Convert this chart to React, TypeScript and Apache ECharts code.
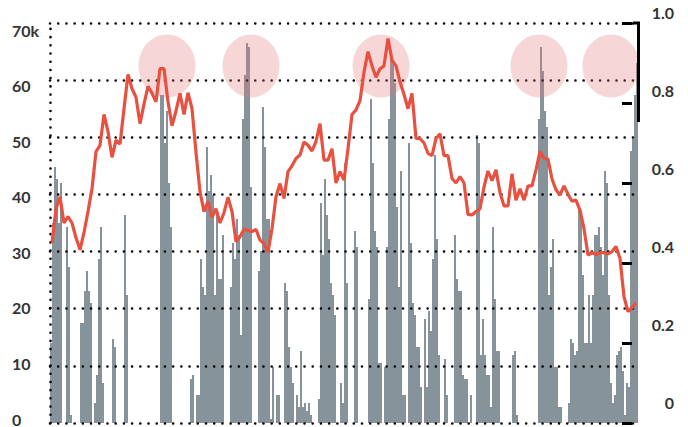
import React, { useEffect, useRef } from "react";
import * as echarts from "echarts";

// Red line, left axis (thousands), one value per 4px step
const lineValues: number[] = [
  31.5, 37.5, 39.6, 35, 36.1, 35, 32.4, 30.3, 33.3, 37,
  41, 47.5, 48.6, 54, 51, 46.5, 49.5, 48.8, 55, 61,
  58.5, 57, 52.4, 55.8, 58.9, 57.7, 56.2, 62, 62, 56.2,
  52, 54.6, 57.7, 54, 57.8, 55, 47.3, 40.5, 37, 38.8,
  36, 37.5, 35, 36.8, 39.5, 37, 31.7, 32.6, 33.9, 33.7,
  33.5, 33.9, 32, 31.4, 29.9, 34, 39.6, 41.9, 39.3, 44,
  45, 46.3, 46.9, 49.2, 48.6, 47.6, 49.3, 52.4, 46, 46,
  48, 42, 44, 42.5, 48, 54, 54.8, 56.4, 61.4, 65,
  62.5, 60.5, 62, 62.5, 67.3, 63.5, 62.5, 59.7, 57.5, 55,
  57.7, 49.8, 49.8, 49, 47.2, 46.8, 49.8, 50.6, 46.8, 46.8,
  42.8, 42, 43.1, 42, 36.5, 36.4, 37, 37.5, 41.3, 44.1,
  42.4, 44.3, 40.3, 38, 38, 43.6, 39, 41, 39, 41.5,
  41.5, 44.3, 47.5, 46.3, 46.2, 42.7, 40.8, 39.9, 41.5, 40,
  38.8, 39, 37.2, 34, 29.4, 29.8, 29.5, 29.8, 29.8, 29.6,
  30, 30.9, 28.8, 22.1, 19.5, 20.2, 21,
];

// Grey bars, right axis (0..1), one value per 2px step
const barValues: number[] = [
  0.2, 0.5, 0.64, 0.61, 0.5, 0.6, 0, 0, 0.49, 0.39,
  0.02, 0, 0, 0, 0, 0.25, 0.25, 0.33, 0.38, 0.33,
  0.3, 0, 0.05, 0.12, 0.41, 0.49, 0.1, 0, 0, 0,
  0, 0.21, 0.19, 0, 0, 0, 0, 0.52, 0.32, 0,
  0, 0, 0, 0, 0, 0, 0, 0, 0, 0,
  0, 0, 0, 0, 0, 0.82, 0.82, 0.7, 0.78, 0.6,
  0.49, 0, 0, 0, 0, 0, 0, 0, 0, 0,
  0.11, 0.12, 0, 0.07, 0.07, 0.41, 0.34, 0.32, 0.69, 0.58,
  0.62, 0.57, 0.32, 0.52, 0.36, 0.36, 0.47, 0, 0, 0,
  0.34, 0.45, 0.41, 0.51, 0.47, 0.22, 0.76, 0.87, 0.95, 0.94,
  0.59, 0, 0, 0, 0.38, 0.43, 0.79, 0.69, 0.51, 0.51,
  0.01, 0.14, 0, 0.07, 0.07, 0, 0, 0.35, 0.33, 0.19,
  0.14, 0.1, 0, 0.07, 0.04, 0.18, 0.04, 0.05, 0.03, 0.05,
  0.02, 0, 0, 0, 0.06, 0.55, 0.42, 0.61, 0.52, 0.46,
  0.35, 0.32, 0.27, 0, 0, 0.1, 0.05, 0.65, 0.35, 0,
  0, 0, 0.48, 0.44, 0, 0, 0, 0, 0, 0.31,
  0.81, 0.65, 0.48, 0.44, 0.15, 0.15, 0, 0.14, 0.44, 0.76,
  0.92, 0.9, 0.85, 0.54, 0.34, 0.63, 0.07, 0.07, 0, 0.7,
  0.45, 0.3, 0.27, 0.19, 0.19, 0.09, 0, 0.26, 0.09, 0.28,
  0.23, 0.41, 0.67, 0.46, 0.17, 0, 0, 0.16, 0.07, 0,
  0, 0, 0.47, 0.36, 0.33, 0.33, 0.12, 0.11, 0.11, 0,
  0.07, 0, 0, 0.72, 0.7, 0.17, 0.26, 0.17, 0.12, 0.12,
  0.04, 0.49, 0.31, 0.18, 0.18, 0, 0, 0, 0, 0,
  0, 0.17, 0.18, 0.02, 0, 0, 0, 0, 0, 0,
  0, 0, 0, 0, 0.76, 0.94, 0.88, 0.78, 0.74, 0.32,
  0.39, 0.46, 0.14, 0.14, 0.04, 0.04, 0, 0, 0, 0.05,
  0.21, 0.2, 0.17, 0.18, 0.54, 0.53, 0.37, 0.2, 0.2, 0.32,
  0.2, 0.32, 0.47, 0.47, 0.49, 0.44, 0.37, 0.63, 0.6, 0.32,
  0.1, 0.05, 0.07, 0.17, 0.18, 0.19, 0.13, 0.02, 0.1, 0.09,
  0.68, 0.71, 0.82, 0.9,
];

// Highlighted peaks: bar indices, drawn at one level on the right axis
const highlightIdx: number[] = [58, 100, 165, 244, 280];
const highlightLevel = 0.8925;

const leftTickLabels: string[] = ["0", "10", "20", "30", "40", "50", "60", "70k"];
const rightTickLabels: string[] = ["0", "0.2", "0.4", "0.6", "0.8", "1.0"];

const barCategories = barValues.map((_, i) => String(i));
const lineCategories = lineValues.map((_, i) => String(i));

const dotted = { color: "#000", width: 2.6, type: [0.01, 8.2] as number[], cap: "round" as const };
const labelFont = {
  fontFamily: "Lato",
  fontWeight: "bold" as const,
  fontSize: 16,
  color: "#333",
};

export default function App() {
  const ref = useRef<HTMLDivElement>(null);
  useEffect(() => {
    if (!ref.current) return;
    const chart = echarts.init(ref.current, undefined, { renderer: "svg" });
    chart.setOption({
      animation: false,
      grid: [
        { left: 50, right: 50, top: 23, bottom: 4 },
        { left: 12, width: 1, top: 30, bottom: 7 },
        { right: 14, width: 1, top: 12, bottom: 25 },
      ],
      xAxis: [
        { type: "category", gridIndex: 0, data: barCategories, show: false, boundaryGap: true },
        { type: "category", gridIndex: 0, data: lineCategories, show: false, boundaryGap: true },
        { type: "value", gridIndex: 1, show: false },
        { type: "value", gridIndex: 2, show: false },
      ],
      yAxis: [
        {
          type: "value",
          gridIndex: 0,
          min: 0,
          max: 70,
          interval: 10,
          position: "left",
          z: 3,
          axisLine: { show: true, lineStyle: dotted },
          axisTick: { show: false },
          axisLabel: { show: false },
          splitLine: { show: true, lineStyle: dotted },
        },
        {
          type: "value",
          gridIndex: 0,
          min: 0,
          max: 1,
          interval: 0.2,
          position: "right",
          offset: -6,
          z: 3,
          axisLine: { show: false },
          axisTick: { show: true, inside: true, length: 10, lineStyle: { color: "#000", width: 3 } },
          axisLabel: { show: false },
          splitLine: { show: false },
        },
        {
          type: "category",
          gridIndex: 1,
          data: leftTickLabels,
          boundaryGap: false,
          position: "left",
          axisLine: { show: false },
          axisTick: { show: false },
          axisLabel: { ...labelFont, margin: 0, align: "left", interval: 0 },
        },
        {
          type: "category",
          gridIndex: 2,
          data: rightTickLabels,
          boundaryGap: false,
          position: "right",
          axisLine: { show: false },
          axisTick: { show: false },
          axisLabel: { ...labelFont, margin: 0, align: "right", interval: 0 },
        },
      ],
      graphic: [
        {
          type: "polyline",
          shape: { points: [[633, 23], [638.5, 23], [638.5, 122]] },
          style: { stroke: "#000", lineWidth: 3, fill: null },
          z: 10,
        },
      ],
      series: [
        {
          type: "bar",
          xAxisIndex: 0,
          yAxisIndex: 1,
          data: barValues,
          barCategoryGap: "0%",
          itemStyle: { color: "#87939b" },
          z: 1,
          markPoint: {
            symbol: "circle",
            symbolSize: [57, 63],
            label: { show: false },
            itemStyle: { color: "rgba(226,120,120,0.3)" },
            data: highlightIdx.map((i) => ({ coord: [i, highlightLevel] })),
          },
        },
        {
          type: "line",
          xAxisIndex: 1,
          yAxisIndex: 0,
          data: lineValues,
          symbol: "none",
          lineStyle: { color: "#e8503f", width: 3.2 },
          z: 5,
        },
      ],
    });
    return () => chart.dispose();
  }, []);
  return <div ref={ref} style={{ width: 688, height: 427, position: "absolute", left: 0, top: 0 }} />;
}
